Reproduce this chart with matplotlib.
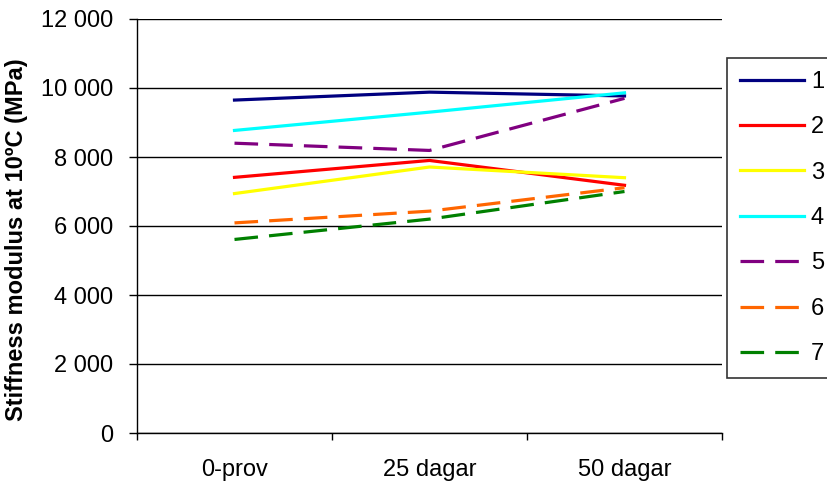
import numpy as np
import matplotlib
matplotlib.use("Agg")
import matplotlib.pyplot as plt
from matplotlib.ticker import FuncFormatter, FixedLocator

plt.rcParams['font.family'] = ['Liberation Sans', 'DejaVu Sans']
plt.rcParams['lines.scale_dashes'] = False

categories = ["0-prov", "25 dagar", "50 dagar"]
labels = ["1", "2", "3", "4", "5", "6", "7"]
s1 = [9650, 9880, 9770]
s2 = [7410, 7900, 7180]
s3 = [6940, 7710, 7400]
s4 = [8770, 9300, 9860]
s5 = [8400, 8190, 9700]
s6 = [6090, 6430, 7110]
s7 = [5610, 6200, 7000]
series = [s1, s2, s3, s4, s5, s6, s7]

colors = ["#000080", "#FF0000", "#FFFF00", "#00FFFF", "#800080", "#FF6600", "#008000"]
dashed = [False, False, False, False, True, True, True]

fig = plt.figure(figsize=(8.27, 4.84), dpi=100)
ax = fig.add_axes([137/827, 1 - 433/484, (722 - 137)/827, (433 - 19)/484])

x = np.arange(len(categories))
for vals, c, d, lab in zip(series, colors, dashed, labels):
    if d:
        ax.plot(x, vals, color=c, linewidth=2.3, dashes=(17, 8), label=lab)
    else:
        ax.plot(x, vals, color=c, linewidth=2.3, label=lab)

ax.set_xlim(-0.5, 2.5)
ax.set_ylim(0, 12000)
ax.set_yticks(np.arange(0, 12001, 2000))
ax.yaxis.set_major_formatter(FuncFormatter(lambda v, p: f"{int(v):,}".replace(",", " ")))
ax.set_xticks(x)
ax.set_xticklabels(categories)
ax.xaxis.set_minor_locator(FixedLocator([-0.5, 0.5, 1.5, 2.5]))
ax.tick_params(axis='x', which='major', length=0, pad=19, labelsize=17)
ax.tick_params(axis='x', which='minor', length=5, width=1, direction='out')
ax.tick_params(axis='y', length=5.5, width=1, direction='out', labelsize=17, pad=11.5)

ax.grid(axis='y', color='black', linewidth=1)
ax.set_axisbelow(True)
ax.spines['top'].set_visible(False)
ax.spines['right'].set_visible(False)
ax.spines['left'].set_linewidth(1)
ax.spines['bottom'].set_linewidth(1)

ax.set_ylabel("Stiffness modulus at 10ºC (MPa)", fontsize=17, fontweight='bold')
ax.yaxis.set_label_coords(-0.186, 0.466)

leg = fig.legend(loc='upper left',
                 bbox_to_anchor=(727/827, 0, 120/827, 1 - 58/484), mode='expand',
                 frameon=True, fancybox=False, fontsize=17, handlelength=2.7,
                 labelspacing=0.99, borderpad=0.55, handletextpad=0.3,
                 borderaxespad=0)
leg.get_frame().set_edgecolor('black')
leg.get_frame().set_linewidth(1.2)

fig.savefig("out.png", dpi=100)
